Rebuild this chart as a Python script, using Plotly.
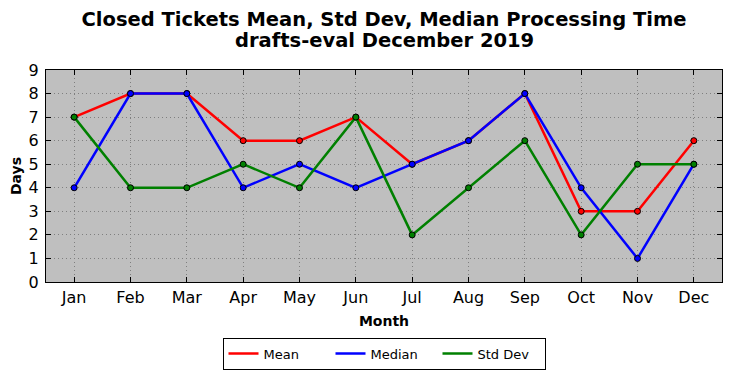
import plotly.graph_objects as go

months = ["Jan", "Feb", "Mar", "Apr", "May", "Jun", "Jul", "Aug", "Sep", "Oct", "Nov", "Dec"]
mean_vals = [7, 8, 8, 6, 6, 7, 5, 6, 8, 3, 3, 6]
median_vals = [4, 8, 8, 4, 5, 4, 5, 6, 8, 4, 1, 5]
std_vals = [7, 4, 4, 5, 4, 7, 2, 4, 6, 2, 5, 5]

series = [("Mean", mean_vals, "#ff0000"), ("Median", median_vals, "#0000ff"), ("Std Dev", std_vals, "#008000")]

fig = go.Figure()
for name, vals, color in series:
    fig.add_trace(go.Scatter(
        x=months, y=vals, name=name, mode="lines+markers", showlegend=False,
        line=dict(color=color, width=2.5),
        marker=dict(color=color, size=6, line=dict(color="black", width=1)),
    ))
for name, vals, color in series:
    fig.add_trace(go.Scatter(
        x=[None], y=[None], name=name, mode="lines", showlegend=True,
        line=dict(color=color, width=2.5),
    ))

font = "DejaVu Sans, sans-serif"
W, H = 716, 362  # page body has an 8px margin in the viewer
PH = 212  # plot height in px
fig.update_layout(
    width=W, height=H,
    margin=dict(l=38, r=2, t=62, b=88, autoexpand=False),
    paper_bgcolor="white", plot_bgcolor="#bfbfbf",
    font=dict(family=font, color="black"),
    title=dict(text="<b>Closed Tickets Mean, Std Dev, Median Processing Time</b>",
               x=(384 - 8) / W, xanchor="center", y=1 - 11 / H, yanchor="middle",
               font=dict(size=19.5, family=font)),
    annotations=[dict(text="<b>drafts-eval December 2019</b>", xref="paper", yref="paper",
                      x=0.5, y=1 + 29 / PH, xanchor="center", yanchor="middle", showarrow=False,
                      font=dict(size=19.5, family=font))],
    showlegend=True,
    legend=dict(orientation="h", x=0.5, xanchor="center", y=-(369.5 - 282) / PH, yanchor="bottom",
                bordercolor="black", borderwidth=1, bgcolor="white",
                font=dict(size=13, family=font), itemwidth=30, entrywidth=62, traceorder="normal"),
    xaxis=dict(range=[-0.5, 11.5], showline=True, linecolor="black", linewidth=1, mirror="allticks",
               ticks="inside", ticklen=5, tickcolor="black", showgrid=True, gridcolor="#7f7f7f",
               griddash="1px,3px", gridwidth=1, tickfont=dict(size=16, family=font), automargin=False,
               ticklabelstandoff=1,
               title=dict(text="<b>Month</b>", font=dict(size=14, family=font), standoff=9)),
    yaxis=dict(range=[0, 9], dtick=1, showline=True, linecolor="black", linewidth=1, mirror="allticks",
               ticks="inside", ticklen=5, tickcolor="black", showgrid=True, gridcolor="#7f7f7f",
               griddash="1px,3px", gridwidth=1, tickfont=dict(size=16, family=font), zeroline=False,
               automargin=False, ticklabelstandoff=3,
               title=dict(text="<b>Days</b>", font=dict(size=14, family=font), standoff=5)),
)
fig.write_html("out.html")
